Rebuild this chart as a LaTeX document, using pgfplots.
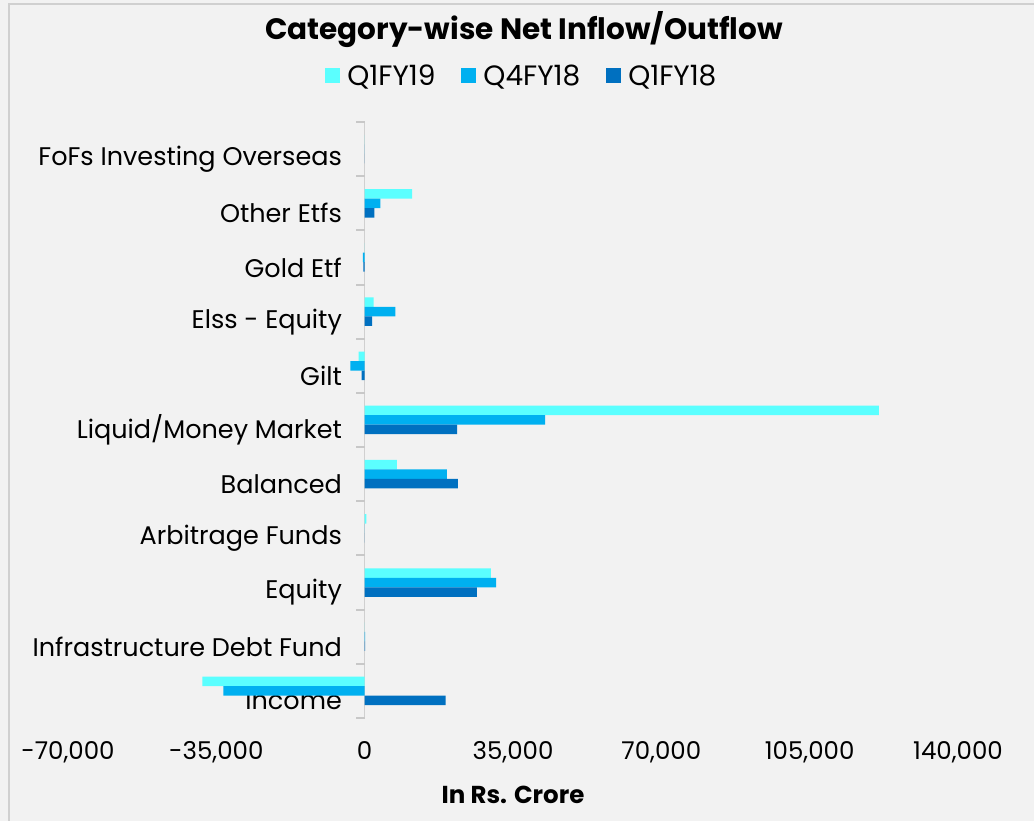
\documentclass[border=0pt]{standalone}
\usepackage{fontspec}
\setmainfont{Poppins}
\usepackage{pgfplots}
\pgfplotsset{compat=1.18}
\definecolor{cA}{HTML}{5BFFFF}
\definecolor{cB}{HTML}{00B0F0}
\definecolor{cC}{HTML}{0070C0}
\definecolor{bg}{HTML}{F2F2F2}
\definecolor{ax}{HTML}{D0D0D0}
\definecolor{tk}{HTML}{C8C8C8}
\begin{document}
\begin{tikzpicture}[x=1pt,y=1pt]
\useasboundingbox (0,0) rectangle (1034,821);
\fill[bg] (0,0) rectangle (1034,821);
\draw[ax, line width=1.5pt] (9,0) -- (9,817) -- (1034,817);
\node[font=\fontsize{29.5}{33}\selectfont\bfseries] at (524,791) {Category-wise Net Inflow/Outflow};
\begin{axis}[
 at={(68pt,103pt)}, anchor=south west,
 scale only axis, width=890pt, height=596pt,
 xmin=-70000, xmax=140000, ymin=-0.5, ymax=10.5,
 axis y line=middle, axis x line=bottom,
 x axis line style={draw=none},
 y axis line style={-, draw=ax, line width=1.5pt},
 xbar, bar width=9.5pt,
 clip=false,
 xtick={-70000,-35000,0,35000,70000,105000,140000},
 scaled x ticks=false,
 xticklabel style={font=\fontsize{24.5}{28}\selectfont, yshift=-18pt, /pgf/number format/assume math mode=true, /pgf/number format/1000 sep={,}, /pgf/number format/fixed},
 major x tick style={draw=none},
 ytick={0,...,10},
 yticklabels={Income, Infrastructure Debt Fund, Equity, Arbitrage Funds, Balanced, Liquid/Money Market, Gilt, Elss - Equity, Gold Etf, Other Etfs, FoFs Investing Overseas},
 yticklabel style={font=\fontsize{25.5}{29}\selectfont, anchor=east, yshift=-10pt, xshift=-15pt},
 major y tick style={draw=none},
 xlabel={In Rs. Crore},
 every axis x label/.style={at={(axis description cs:0.5,0)}, anchor=center, yshift=-77pt, font=\fontsize{24.5}{28}\selectfont\bfseries},
 legend columns=3,
 legend style={at={(0.51,1)}, anchor=south, yshift=31pt, draw=none, fill=none, font=\fontsize{28}{32}\selectfont,
   /tikz/every odd column/.append style={column sep=5pt},
   /tikz/every even column/.append style={column sep=24pt}},
 legend image code/.code={\fill[#1] (0pt,-7.5pt) rectangle (15pt,7.5pt);},
]
\pgfplotsinvokeforeach{-0.5,0.5,1.5,2.5,3.5,4.5,5.5,6.5,7.5,8.5,9.5,10.5}{
  \draw[tk, line width=2pt] (axis cs:0,#1) -- (axis cs:-2000,#1);
}
\addplot[fill=cA, draw=none, bar shift=9.5pt] coordinates {
(-38300,0) (0,1) (29800,2) (400,3) (7600,4) (121300,5) (-1400,6) (2100,7) (0,8) (11200,9) (0,10)};
\addplot[fill=cB, draw=none, bar shift=0pt] coordinates {
(-33350,0) (100,1) (31000,2) (0,3) (19400,4) (42600,5) (-3400,6) (7250,7) (-400,8) (3700,9) (0,10)};
\addplot[fill=cC, draw=none, bar shift=-9.5pt] coordinates {
(19100,0) (100,1) (26500,2) (0,3) (22000,4) (21800,5) (-700,6) (1750,7) (-300,8) (2300,9) (0,10)};
\legend{Q1FY19, Q4FY18, Q1FY18}
\end{axis}
\end{tikzpicture}
\end{document}
